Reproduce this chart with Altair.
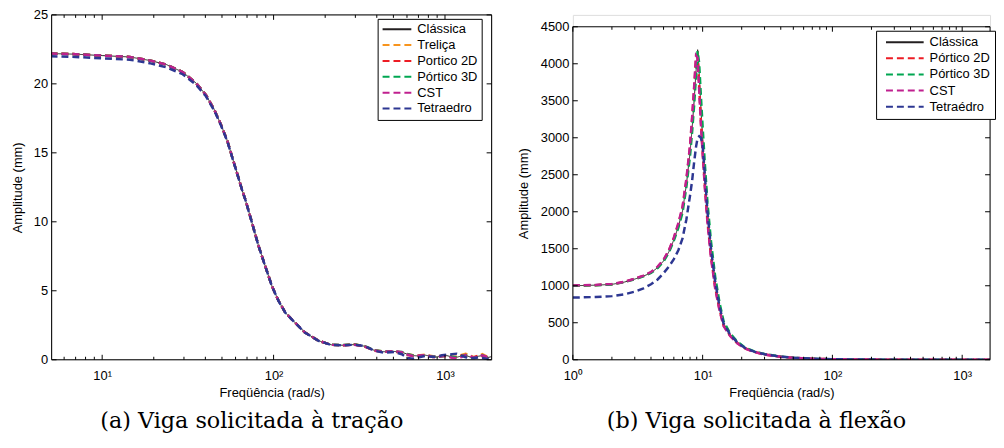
import altair as alt
import pandas as pd

# ---------------- (a) Viga solicitada à tração ----------------
series_a = ["Clássica", "Treliça", "Portico 2D", "Pórtico 3D", "CST", "Tetraedro"]
colors_a = ["#231F20", "#F7941D", "#ED1C24", "#00A651", "#C0208F", "#2D3792"]

freq_a = [5, 7, 10, 14.5, 18.9, 23.7, 29.5, 35.2, 40.3, 45, 49.2, 53.7, 57.4, 61.4, 65.6, 68.6,
          75, 81.9, 89.5, 97.8, 107, 117, 133, 152, 182, 217, 255, 296, 340, 387, 440, 505,
          560, 603, 650, 689, 769, 850, 900, 960, 1024, 1100, 1171, 1250, 1320, 1400, 1480,
          1560, 1650, 1750, 1870]

head_a = [22.2, 22.15, 22.05, 21.95, 21.7, 21.4, 20.85, 20.07, 19.2, 18.15, 17.08, 15.88, 14.68,
          13.48, 12.28, 11.57, 9.89, 8.21, 6.77, 5.34, 4.26, 3.42, 2.71, 1.99, 1.39, 1.08]
classica_tail_a = [1.05, 1.10, 0.98, 0.68, 0.58, 0.60, 0.55, 0.40, 0.30, 0.28, 0.33, 0.22, 0.20,
                   0.28, 0.30, 0.20, 0.18, 0.28, 0.32, 0.20, 0.15, 0.25, 0.30, 0.15, 0.22]
trelica_tail_a = [1.05, 1.12, 0.97, 0.70, 0.60, 0.58, 0.52, 0.42, 0.33, 0.30, 0.36, 0.25, 0.22,
                  0.30, 0.33, 0.24, 0.22, 0.35, 0.43, 0.30, 0.18, 0.26, 0.40, 0.25, 0.30]
portico2d_tail_a = [1.06, 1.10, 0.96, 0.66, 0.57, 0.61, 0.52, 0.36, 0.27, 0.27, 0.30, 0.20, 0.18,
                    0.25, 0.28, 0.17, 0.20, 0.30, 0.28, 0.16, 0.18, 0.30, 0.26, 0.14, 0.25]
portico3d_tail_a = [1.07, 1.11, 0.99, 0.70, 0.59, 0.59, 0.56, 0.42, 0.31, 0.26, 0.31, 0.24, 0.18,
                    0.26, 0.31, 0.22, 0.16, 0.26, 0.34, 0.22, 0.13, 0.22, 0.33, 0.18, 0.20]
cst_tail_a = [1.05, 1.09, 0.97, 0.67, 0.57, 0.62, 0.54, 0.38, 0.28, 0.29, 0.34, 0.21, 0.19,
              0.27, 0.26, 0.14, 0.10, 0.20, 0.35, 0.28, 0.14, 0.22, 0.32, 0.22, 0.28]
tetra_head_a = [22.0, 21.95, 21.85, 21.75, 21.5, 21.2, 20.7, 19.95, 19.1, 18.08, 17.02, 15.84, 14.65,
                13.46, 12.27, 11.56, 9.88, 8.2, 6.76, 5.33, 4.25, 3.41, 2.7, 1.98, 1.38, 1.07]
tetra_tail_a = [1.04, 1.09, 0.99, 0.66, 0.50, 0.56, 0.40, 0.12, 0.07, 0.15, 0.28, 0.20, 0.22,
                0.32, 0.36, 0.40, 0.43, 0.30, 0.18, 0.10, 0.12, 0.16, 0.12, 0.05, 0.10]

values_a = [head_a + classica_tail_a, head_a + trelica_tail_a, head_a + portico2d_tail_a,
            head_a + portico3d_tail_a, head_a + cst_tail_a, tetra_head_a + tetra_tail_a]

# ---------------- (b) Viga solicitada à flexão ----------------
series_b = ["Clássica", "Pórtico 2D", "Pórtico 3D", "CST", "Tetraédro"]
colors_b = ["#231F20", "#ED1C24", "#00A651", "#C0208F", "#2D3792"]

freq_b = [1, 1.5, 2.0, 2.5, 3.0, 3.5, 4.0, 4.5, 5.0, 5.5, 6.0, 6.5, 7.0, 7.5, 8.0, 8.3, 8.6, 8.9,
          9.15, 9.4, 9.7, 10.0, 10.4, 10.9, 11.6, 12.5, 13.5, 14.5, 16.3, 18.5, 21.2, 25, 30, 40,
          50, 70, 100, 200, 500, 1000, 1640]
classica_b = [1000, 1008, 1019, 1050, 1090, 1130, 1175, 1245, 1335, 1460, 1620, 1800, 2010, 2370,
              2800, 3130, 3500, 3900, 4190, 3900, 3400, 3000, 2500, 2000, 1500, 1050, 720, 490,
              340, 235, 160, 110, 75, 42, 27, 14, 7, 2, 0.5, 0.2, 0.1]
portico2d_b = [1000, 1008, 1020, 1052, 1092, 1133, 1180, 1252, 1345, 1475, 1640, 1830, 2050, 2420,
               2880, 3250, 3650, 4080, 4120, 3700, 3220, 2820, 2360, 1870, 1400, 980, 680, 465,
               325, 225, 155, 106, 72, 40, 26, 13, 6.5, 1.9, 0.5, 0.2, 0.1]
portico3d_b = [1000, 1007, 1018, 1049, 1088, 1128, 1172, 1240, 1330, 1452, 1610, 1785, 1990, 2340,
               2760, 3080, 3440, 3840, 4170, 4010, 3560, 3150, 2650, 2120, 1600, 1120, 770, 520,
               355, 245, 165, 113, 77, 43, 27, 14, 7, 2, 0.5, 0.2, 0.1]
cst_b = [1005, 1012, 1024, 1055, 1095, 1137, 1185, 1258, 1352, 1482, 1650, 1845, 2070, 2450,
         2900, 3280, 3690, 4110, 4080, 3650, 3180, 2790, 2330, 1850, 1380, 960, 665, 455,
         320, 222, 152, 104, 71, 40, 26, 13, 6.5, 1.9, 0.5, 0.2, 0.1]
tetra_b = [840, 848, 860, 885, 920, 965, 1020, 1085, 1170, 1260, 1360, 1480, 1640, 1900,
           2220, 2420, 2670, 2880, 3000, 3020, 3000, 2900, 2500, 2000, 1500, 1050, 720, 490,
           340, 235, 160, 110, 75, 42, 27, 14, 7, 2, 0.5, 0.2, 0.1]
values_b = [classica_b, portico2d_b, portico3d_b, cst_b, tetra_b]

# ticks
yticks_a = [0, 5, 10, 15, 20, 25]
xmajor_a = [10, 100, 1000]
xminor_a = [6, 7, 8, 9, 20, 30, 40, 50, 60, 70, 80, 90, 200, 300, 400, 500, 600, 700, 800, 900]
yticks_b = [0, 500, 1000, 1500, 2000, 2500, 3000, 3500, 4000, 4500]
xmajor_b = [1, 10, 100, 1000]
xminor_b = [2, 3, 4, 5, 6, 7, 8, 9, 20, 30, 40, 50, 60, 70, 80, 90, 200, 300, 400, 500, 600,
            700, 800, 900]

FONT = "Liberation Sans"
SUP = ("datum.value == 1 ? '10\u2070' : datum.value == 10 ? '10\u00b9' : "
       "datum.value == 100 ? '10\u00b2' : '10\u00b3'")


def build_df(freq, names, values):
    rows = []
    for s, vals in zip(names, values):
        for f, a in zip(freq, vals):
            rows.append({"f": f, "a": a, "serie": s})
    return pd.DataFrame(rows)


def panel(df, series, colors, xdom, ydom, yvals, xmaj, xmin, W, H, top, leg, caption,
          ytitle_pad, ylab_pad):
    xs = alt.Scale(type="log", domain=xdom, nice=False)
    ys = alt.Scale(domain=ydom, nice=False, range=[H, top])
    dashes = [[1, 0]] + [[7, 4]] * (len(series) - 1)
    color = alt.Color("serie:N", scale=alt.Scale(domain=series, range=colors), legend=leg)
    dash = alt.StrokeDash("serie:N", scale=alt.Scale(domain=series, range=dashes), legend=leg)
    xaxis = alt.Axis(values=xmaj, labelExpr=SUP, ticks=False, domain=False, grid=False,
                     labelFont=FONT, labelFontSize=13, labelColor="black", labelPadding=10,
                     labelFlush=False, title="Freqüência (rad/s)", titleFont=FONT,
                     titleFontSize=13, titleFontWeight="normal", titleColor="black",
                     titlePadding=4)
    yaxis = alt.Axis(values=yvals, format="d", ticks=False, domain=False, grid=False,
                     labelFont=FONT, labelFontSize=13, labelColor="black",
                     labelPadding=ylab_pad, labelFlush=False, title="Amplitude (mm)",
                     titleFont=FONT, titleFontSize=13, titleFontWeight="normal",
                     titleColor="black", titlePadding=ytitle_pad)
    layers = []
    for i, s in enumerate(series):
        sub = df[df.serie == s]
        layers.append(
            alt.Chart(sub).mark_line(strokeWidth=1 if i == 0 else 2.5, clip=True).encode(
                x=alt.X("f:Q", scale=xs, axis=xaxis),
                y=alt.Y("a:Q", scale=ys, axis=yaxis),
                color=color, strokeDash=dash, order=alt.Order("f:Q")))
    yt = alt.Chart(pd.DataFrame({"v": yvals}))
    yy = alt.Y("v:Q", scale=ys, axis=yaxis)
    layers.append(yt.mark_rule(color="black").encode(y=yy, x=alt.value(0), x2=alt.value(5)))
    layers.append(yt.mark_rule(color="black").encode(y=yy, x=alt.value(W - 5), x2=alt.value(W)))
    xx = alt.X("v:Q", scale=xs, axis=xaxis)
    for vals, ln in ((xmaj, 5), (xmin, 3)):
        t = alt.Chart(pd.DataFrame({"v": vals}))
        layers.append(t.mark_rule(color="black").encode(x=xx, y=alt.value(H), y2=alt.value(H - ln)))
        layers.append(t.mark_rule(color="black").encode(x=xx, y=alt.value(top), y2=alt.value(top + ln)))
    frame = pd.DataFrame({"x": [xdom[0], xdom[0], xdom[0], xdom[1]],
                          "x2": [xdom[1], xdom[1], xdom[0], xdom[1]],
                          "y": [ydom[0], ydom[1], ydom[0], ydom[0]],
                          "y2": [ydom[0], ydom[1], ydom[1], ydom[1]]})
    layers.append(alt.Chart(frame).mark_rule(color="black", strokeWidth=1).encode(
        x=alt.X("x:Q", scale=xs, axis=xaxis), x2="x2:Q",
        y=alt.Y("y:Q", scale=ys, axis=yaxis), y2="y2:Q"))
    return alt.layer(*layers).properties(
        width=W, height=H,
        title=alt.TitleParams(caption, orient="bottom", anchor="middle", frame="bounds",
                              font="DejaVu Serif", fontSize=22.5, fontWeight="normal",
                              color="black", offset=11))


def legend(x, y, size, rowpad, symoff, pad):
    return alt.Legend(orient="none", legendX=x, legendY=y, title=None, labelFont=FONT,
                      labelFontSize=13, labelColor="black", symbolType="stroke",
                      symbolSize=size, symbolStrokeWidth=2, clipHeight=13, rowPadding=rowpad,
                      padding=pad, labelOffset=5, symbolOffset=symoff, strokeColor="black",
                      fillColor="white", cornerRadius=0)


df_a = build_df(freq_a, series_a, values_a)
df_b = build_df(freq_b, series_b, values_b)

pa = panel(df_a, series_a, colors_a, [5.07, 1870], [0, 25], yticks_a, xmajor_a, xminor_a,
           444, 348, 0, legend(329, 4, 841, 2.0, 0, 4), "(a) Viga solicitada à tração", 9, 4)
pb = panel(df_b, series_b, colors_b, [1, 1640], [0, 4500], yticks_b, xmajor_b, xminor_b,
           421, 348, 12, legend(306, 16, 1444, 2.3, 4, 5), "(b) Viga solicitada à flexão", 10, 4)

chart = alt.hconcat(pa, pb, spacing=24).resolve_scale(
    x="independent", y="independent", color="independent", strokeDash="independent"
).properties(padding={"left": 3, "top": -2, "right": 0, "bottom": 1}).configure_view(
    stroke=None).configure(font=FONT)

chart.save("out.html", embed_options={"renderer": "svg", "actions": False})
